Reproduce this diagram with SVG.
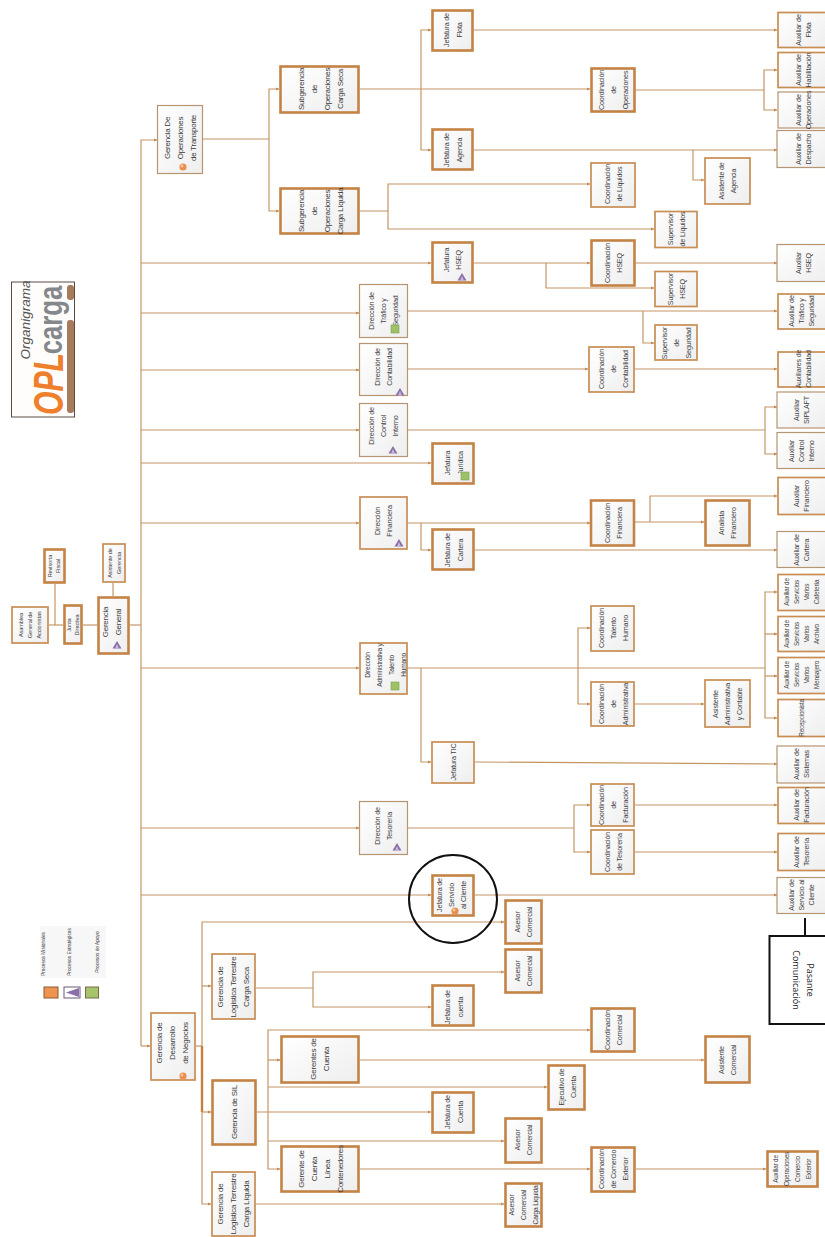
<svg xmlns="http://www.w3.org/2000/svg" width="825" height="1237" viewBox="0 0 825 1237">
<defs>
<linearGradient id="g" x1="0" y1="0" x2="1" y2="1"><stop offset="0" stop-color="#ffffff"/><stop offset="1" stop-color="#eeeeee"/></linearGradient>
<marker id="a" markerUnits="userSpaceOnUse" markerWidth="4" markerHeight="4" refX="3.4" refY="2" orient="auto"><path d="M0 0.4L3.6 2L0 3.6z" fill="#c58a4e"/></marker>
<g id="tri"><path d="M0 -4L4.5 3.5H-4.5z" fill="#8a6fa8"/><path d="M0 -1L2 3.5H-2z" fill="#c9b8d8"/></g>
<g id="blob"><circle r="3.6" fill="#ec8f4e"/><circle cx="-1" cy="-1" r="1.4" fill="#f7c9a4"/></g>
<rect id="sq" x="-4" y="-4" width="8" height="8" fill="#9cc265" stroke="#7e9e52" stroke-width="0.6"/>
</defs>
<style>
text{font-family:"Liberation Sans",Arial,sans-serif;font-size:7.200px;letter-spacing:-0.2px;fill:#3f3f3f;text-anchor:middle}
.L{font-size:8px;letter-spacing:-0.25px;fill:#3a3a3a}
.s{font-size:6.400px}
.x{font-size:5.600px;letter-spacing:-0.1px}
rect.a,rect.b,rect.c{fill:url(#g)}
rect.a{stroke:#b79472;stroke-width:1.2}
rect.b{stroke:#c88d54;stroke-width:1.7}
rect.c{stroke:#c48345;stroke-width:2.6}
#connectors path{fill:none;stroke:#c39665;stroke-width:1.2}
#connectors path.m{marker-end:url(#a)}
#connectors path.k{stroke:#c47f3c;stroke-width:2.4}
</style>

<g id="logo">
<rect x="11.500" y="282" width="63" height="135" fill="#fffdfb" stroke="#5c4a44" stroke-width="1"/>
<text transform="translate(30 320) rotate(-90)" style="font-size:13.500px;letter-spacing:0;font-style:italic;fill:#555">Organigrama</text>
<text transform="translate(63 384) rotate(-90) scale(0.72 1)" style="font-size:42px;letter-spacing:0;font-weight:700;font-style:italic;fill:#ee7f2d">OPL</text>
<text transform="translate(62 320) rotate(-90) scale(0.78 1)" style="font-size:33px;letter-spacing:0;font-weight:700;fill:#85888b">carga</text>
<rect x="67" y="320" width="7" height="93" rx="3" fill="#a87a5c"/>
<rect x="67" y="285" width="7" height="15" rx="3" fill="#a87a5c"/>
</g>

<g id="legend">
<rect x="40" y="926" width="66" height="52" fill="#f7f7f7"/>
<text transform="translate(45 954) rotate(-90)" style="font-size:4.800px;letter-spacing:0;fill:#444">Procesos Misionales</text>
<text transform="translate(71 952) rotate(-90)" style="font-size:4.800px;letter-spacing:0;fill:#444">Procesos Estratégicos</text>
<text transform="translate(99 952) rotate(-90)" style="font-size:4.800px;letter-spacing:0;fill:#444">Procesos de Apoyo</text>
<rect x="44" y="987" width="14" height="11" fill="#ee9350" stroke="#8a5a34"/>
<rect x="64" y="987" width="16" height="11" fill="#fff" stroke="#6b5878"/>
<path d="M66 992.500L79 988V997z" fill="#8a6fa8"/>
<rect x="85.500" y="987" width="13" height="11" fill="#a5c46c" stroke="#7a6a4a"/>
</g>

<g id="connectors">
<path d="M49 625H63"/><path d="M55 584V625"/><path d="M83 625H97"/><path d="M113 583V596"/>
<path d="M130 625H141"/>
<path class="m" d="M141 1046V140H157"/>
<path class="m" d="M141 263H431"/><path class="m" d="M141 313H359"/><path class="m" d="M141 370H359"/><path class="m" d="M141 430H359"/><path class="m" d="M141 463H431"/><path class="m" d="M141 523H359"/><path class="m" d="M141 668H359"/><path class="m" d="M141 828H359"/><path class="m" d="M141 895H431"/><path class="m" d="M141 1046H150"/>
<path d="M203 139H269"/><path class="m" d="M269 139V89H279"/><path class="m" d="M269 139V211H279"/>
<path class="m" d="M360 89H590"/><path class="m" d="M421 89V30H431"/><path class="m" d="M421 89V150H431"/>
<path class="m" d="M474 30H777"/><path class="m" d="M474 150H777"/><path class="m" d="M693 150V180H704"/>
<path class="m" d="M636 90H764V70H777"/><path class="m" d="M764 90V110H777"/>
<path class="m" d="M360 211H388V184H590"/><path class="m" d="M388 211V229H654"/>
<path class="m" d="M474 263H590"/><path class="m" d="M546 263V288H654"/><path class="m" d="M636 263H777"/>
<path class="m" d="M408 311H777"/><path class="m" d="M643 311V343H654"/>
<path class="m" d="M408 369H588"/><path class="m" d="M635 369H777"/>
<path d="M408 430H765"/><path class="m" d="M765 430V407H777"/><path class="m" d="M765 430V454H777"/>
<path class="m" d="M408 523H590"/><path class="m" d="M421 523V550H431"/><path class="m" d="M475 550H777"/>
<path class="m" d="M635 522H704"/><path class="m" d="M650 522V496H777"/>
<path d="M408 668H765"/><path class="m" d="M765 668V592H777"/><path class="m" d="M765 634H777"/><path class="m" d="M765 676H777"/><path class="m" d="M765 668V718H777"/>
<path class="m" d="M578 668V628H590"/><path class="m" d="M578 668V704H590"/><path class="m" d="M635 704H704"/>
<path class="m" d="M421 668V762H431"/><path class="m" d="M475 762L777 764"/>
<path d="M408 828H574"/><path class="m" d="M574 828V805H590"/><path class="m" d="M574 828V852H590"/><path class="m" d="M635 805H777"/><path class="m" d="M635 852H777"/>
<path class="m" d="M475 895H777"/>
<path d="M196 1046H202"/><path class="m" d="M202 1046V922H504"/><path class="m" d="M202 986H211"/><path class="k" d="M202 1046V1112"/><path class="m" d="M202 1112H211"/><path class="m" d="M202 1112V1204H211"/>
<path d="M256 988H313"/><path class="m" d="M313 988V972H504"/><path class="m" d="M313 988V1007H431"/>
<path class="m" d="M257 1112H431"/><path class="m" d="M268 1112V1030H590"/><path class="m" d="M268 1060H280"/><path class="m" d="M268 1087H547"/><path class="m" d="M268 1141H504"/><path class="m" d="M268 1112V1169H280"/>
<path class="m" d="M360 1060H704"/><path class="m" d="M360 1169H590"/><path class="m" d="M636 1169H766"/>
<path class="m" d="M256 1204H504"/>
</g>

<g id="n-asamblea"><rect class="b" x="12" y="607" width="36" height="36"/><text class="x" transform="translate(30 625) rotate(-90)"><tspan x="0" y="-7">Asamblea</tspan><tspan x="0" dy="9">General de</tspan><tspan x="0" dy="9">Accionistas</tspan></text></g>
<g id="n-revisoria"><rect class="c" x="44.500" y="549.500" width="20" height="33"/><text class="x" transform="translate(54.500 566) rotate(-90)"><tspan x="0" y="-2.500">Revisoría</tspan><tspan x="0" dy="8">Fiscal</tspan></text></g>
<g id="n-junta"><rect class="c" x="64.500" y="605.500" width="17" height="38"/><text class="x" transform="translate(73 625) rotate(-90)"><tspan x="0" y="-2.500">Junta</tspan><tspan x="0" dy="8">Directiva</tspan></text></g>
<g id="n-gerencia-general"><rect class="c" x="98.500" y="597.500" width="30" height="56"/><text class="L" transform="translate(112 622) rotate(-90)"><tspan x="0" y="-4">Gerencia</tspan><tspan x="0" dy="13">General</tspan></text><use href="#tri" x="117" y="645"/></g>
<g id="n-asistente-gerencia"><rect class="b" x="103" y="544" width="22" height="38"/><text class="x" transform="translate(114 563) rotate(-90)"><tspan x="0" y="-2.500">Asistente de</tspan><tspan x="0" dy="9">Gerencia</tspan></text></g>

<g id="n-ger-operaciones"><rect class="a" x="157.500" y="105.500" width="45" height="68"/><text class="L" transform="translate(180 138) rotate(-90)"><tspan x="0" y="-10.500">Gerencia De</tspan><tspan x="0" dy="13">Operaciones</tspan><tspan x="0" dy="13">de Transporte</tspan></text><use href="#blob" x="183" y="167"/></g>
<g id="n-sub-seca"><rect class="c" x="280.500" y="66.500" width="78" height="46"/><text class="L" transform="translate(320 89) rotate(-90)"><tspan x="0" y="-16.500">Subgerencia</tspan><tspan x="0" dy="13">de</tspan><tspan x="0" dy="13">Operaciones</tspan><tspan x="0" dy="13">Carga Seca</tspan></text></g>
<g id="n-sub-liquida"><rect class="c" x="280.500" y="188.500" width="78" height="45"/><text class="L" transform="translate(320 211) rotate(-90)"><tspan x="0" y="-16.500">Subgerencia</tspan><tspan x="0" dy="13">de</tspan><tspan x="0" dy="13">Operaciones</tspan><tspan x="0" dy="13">Carga Líquida</tspan></text></g>
<g id="n-jef-flota"><rect class="c" x="432.500" y="10.500" width="40" height="40"/><text transform="translate(452 30) rotate(-90)"><tspan x="0" y="-3.500">Jefatura de</tspan><tspan x="0" dy="13">Flota</tspan></text></g>
<g id="n-jef-agencia"><rect class="c" x="432.500" y="129.500" width="40" height="40"/><text transform="translate(452 150) rotate(-90)"><tspan x="0" y="-3.500">Jefatura de</tspan><tspan x="0" dy="13">Agencia</tspan></text></g>
<g id="n-coord-operaciones"><rect class="c" x="591.500" y="68.500" width="43" height="43"/><text transform="translate(613 90) rotate(-90)"><tspan x="0" y="-9.500">Coordinación</tspan><tspan x="0" dy="12">de</tspan><tspan x="0" dy="12">Operaciones</tspan></text></g>
<g id="n-aux-flota"><rect class="b" x="778" y="12.500" width="50" height="35"/><text transform="translate(803 30) rotate(-90)"><tspan x="0" y="-2.500">Auxiliar de</tspan><tspan x="0" dy="10">Flota</tspan></text></g>
<g id="n-aux-habilitacion"><rect class="b" x="778" y="52.500" width="50" height="35"/><text transform="translate(803 70) rotate(-90)"><tspan x="0" y="-2.500">Auxiliar de</tspan><tspan x="0" dy="10">Habilitación</tspan></text></g>
<g id="n-aux-operaciones"><rect class="a" x="778" y="92" width="50" height="36"/><text transform="translate(803 110) rotate(-90)"><tspan x="0" y="-2.500">Auxiliar de</tspan><tspan x="0" dy="10">Operaciones</tspan></text></g>
<g id="n-aux-despacho"><rect class="a" x="777" y="130.500" width="50" height="37"/><text transform="translate(803 149) rotate(-90)"><tspan x="0" y="-2.500">Auxiliar de</tspan><tspan x="0" dy="10">Despacho</tspan></text></g>
<g id="n-asistente-agencia"><rect class="b" x="705" y="158" width="45" height="46"/><text transform="translate(727 181) rotate(-90)"><tspan x="0" y="-3.500">Asistente de</tspan><tspan x="0" dy="12">Agencia</tspan></text></g>
<g id="n-coord-liquidos"><rect class="b" x="591" y="163" width="44" height="44"/><text transform="translate(613 184) rotate(-90)"><tspan x="0" y="-3.500">Coordinación</tspan><tspan x="0" dy="12">de Líquidos</tspan></text></g>
<g id="n-sup-liquidos"><rect class="b" x="655" y="211.500" width="42" height="36"/><text transform="translate(676 229) rotate(-90)"><tspan x="0" y="-3.500">Supervisor</tspan><tspan x="0" dy="12">de Líquidos</tspan></text></g>
<g id="n-jef-hseq"><rect class="c" x="432.500" y="242.500" width="40" height="40"/><text transform="translate(452 260) rotate(-90)"><tspan x="0" y="-3.500">Jefatura</tspan><tspan x="0" dy="12">HSEQ</tspan></text><use href="#tri" x="462" y="277"/></g>
<g id="n-coord-hseq"><rect class="c" x="591.500" y="240.500" width="43" height="45"/><text transform="translate(613 263) rotate(-90)"><tspan x="0" y="-3.500">Coordinación</tspan><tspan x="0" dy="12">HSEQ</tspan></text></g>
<g id="n-sup-hseq"><rect class="b" x="655" y="271.500" width="42" height="35"/><text transform="translate(676 289) rotate(-90)"><tspan x="0" y="-3.500">Supervisor</tspan><tspan x="0" dy="12">HSEQ</tspan></text></g>
<g id="n-aux-hseq"><rect class="a" x="777" y="244.500" width="50" height="37"/><text transform="translate(803 263) rotate(-90)"><tspan x="0" y="-2.500">Auxiliar</tspan><tspan x="0" dy="10">HSEQ</tspan></text></g>

<g id="n-dir-trafico"><rect class="a" x="359.500" y="284.500" width="48" height="53"/><text transform="translate(383 311) rotate(-90)"><tspan x="0" y="-9.500">Dirección de</tspan><tspan x="0" dy="12">Tráfico y</tspan><tspan x="0" dy="12">Seguridad</tspan></text><use href="#sq" x="395" y="329"/></g>
<g id="n-sup-seguridad"><rect class="b" x="655" y="325" width="42" height="35"/><text transform="translate(676 343) rotate(-90)"><tspan x="0" y="-9.500">Supervisor</tspan><tspan x="0" dy="12">de</tspan><tspan x="0" dy="12">Seguridad</tspan></text></g>
<g id="n-aux-trafico"><rect class="b" x="778" y="294" width="50" height="35"/><text transform="translate(801 311) rotate(-90)"><tspan x="0" y="-7.500">Auxiliar de</tspan><tspan x="0" dy="10">Tráfico y</tspan><tspan x="0" dy="10">Seguridad</tspan></text></g>
<g id="n-dir-contabilidad"><rect class="a" x="359.500" y="343.500" width="48" height="52"/><text transform="translate(383 367) rotate(-90)"><tspan x="0" y="-3.500">Dirección de</tspan><tspan x="0" dy="12">Contabilidad</tspan></text><use href="#tri" x="400" y="392"/></g>
<g id="n-coord-contabilidad"><rect class="b" x="589" y="347" width="45" height="45"/><text transform="translate(613 369) rotate(-90)"><tspan x="0" y="-9.500">Coordinación</tspan><tspan x="0" dy="12">de</tspan><tspan x="0" dy="12">Contabilidad</tspan></text></g>
<g id="n-aux-contabilidad"><rect class="b" x="778" y="352" width="50" height="35"/><text transform="translate(803 369) rotate(-90)"><tspan x="0" y="-2.500">Auxiliares de</tspan><tspan x="0" dy="10">Contabilidad</tspan></text></g>
<g id="n-dir-control"><rect class="a" x="359.500" y="403.500" width="48" height="53"/><text transform="translate(383 426) rotate(-90)"><tspan x="0" y="-9.500">Dirección de</tspan><tspan x="0" dy="12">Control</tspan><tspan x="0" dy="12">Interno</tspan></text><use href="#tri" x="393" y="450"/></g>
<g id="n-aux-siplaft"><rect class="a" x="777" y="392" width="50" height="36"/><text transform="translate(801 410) rotate(-90)"><tspan x="0" y="-2.500">Auxiliar</tspan><tspan x="0" dy="10">SIPLAFT</tspan></text></g>
<g id="n-aux-control"><rect class="a" x="777" y="432.500" width="50" height="36"/><text transform="translate(801 451) rotate(-90)"><tspan x="0" y="-7.500">Auxiliar</tspan><tspan x="0" dy="10">Control</tspan><tspan x="0" dy="10">Interno</tspan></text></g>
<g id="n-jef-juridica"><rect class="c" x="432.500" y="443.500" width="41" height="40"/><text transform="translate(453 463) rotate(-90)"><tspan x="0" y="-3.500">Jefatura</tspan><tspan x="0" dy="13">Jurídica</tspan></text><use href="#sq" x="465" y="476"/></g>

<g id="n-dir-financiera"><rect class="b" x="360" y="497" width="47" height="52"/><text transform="translate(383 521) rotate(-90)"><tspan x="0" y="-3.500">Dirección</tspan><tspan x="0" dy="12">Financiera</tspan></text><use href="#tri" x="399" y="543"/></g>
<g id="n-jef-cartera"><rect class="c" x="432.500" y="529.500" width="41" height="40"/><text transform="translate(453 550) rotate(-90)"><tspan x="0" y="-3.500">Jefatura de</tspan><tspan x="0" dy="13">Cartera</tspan></text></g>
<g id="n-coord-financiera"><rect class="c" x="591" y="500.500" width="43" height="45"/><text transform="translate(613 523) rotate(-90)"><tspan x="0" y="-3.500">Coordinación</tspan><tspan x="0" dy="12">Financiera</tspan></text></g>
<g id="n-analista"><rect class="c" x="705.500" y="500.500" width="44" height="45"/><text transform="translate(727 523) rotate(-90)"><tspan x="0" y="-3.500">Analista</tspan><tspan x="0" dy="12">Financiero</tspan></text></g>
<g id="n-aux-financiero"><rect class="b" x="778" y="477.500" width="50" height="37"/><text transform="translate(801 496) rotate(-90)"><tspan x="0" y="-2.500">Auxiliar</tspan><tspan x="0" dy="10">Financiero</tspan></text></g>
<g id="n-aux-cartera"><rect class="a" x="777" y="531.500" width="50" height="36"/><text transform="translate(801 550) rotate(-90)"><tspan x="0" y="-2.500">Auxiliar de</tspan><tspan x="0" dy="10">Cartera</tspan></text></g>

<g id="n-dir-admin"><rect class="b" x="360" y="643" width="47" height="51"/><text transform="translate(384 665) rotate(-90)" style="font-size:6.600px"><tspan x="0" y="-14.500">Dirección</tspan><tspan x="0" dy="12">Administrativa y</tspan><tspan x="0" dy="12">Talento</tspan><tspan x="0" dy="12">Humano</tspan></text><use href="#sq" x="395" y="686"/></g>
<g id="n-coord-talento"><rect class="b" x="591" y="606" width="43" height="45"/><text transform="translate(613 628) rotate(-90)"><tspan x="0" y="-9.500">Coordinación</tspan><tspan x="0" dy="12">Talento</tspan><tspan x="0" dy="12">Humano</tspan></text></g>
<g id="n-coord-admin"><rect class="b" x="591" y="682" width="43" height="44"/><text transform="translate(613 704) rotate(-90)"><tspan x="0" y="-9.500">Coordinación</tspan><tspan x="0" dy="12">de</tspan><tspan x="0" dy="12">Administrativa</tspan></text></g>
<g id="n-asistente-admin"><rect class="b" x="705" y="680" width="45" height="47"/><text transform="translate(727 704) rotate(-90)"><tspan x="0" y="-9.500">Asistente</tspan><tspan x="0" dy="12">Administrativa</tspan><tspan x="0" dy="12">y Contable</tspan></text></g>
<g id="n-aux-cafeteria"><rect class="b" x="778" y="574.500" width="50" height="36"/><text class="s" transform="translate(802 592) rotate(-90)"><tspan x="0" y="-13">Auxiliar de</tspan><tspan x="0" dy="10">Servicios</tspan><tspan x="0" dy="10">Varios</tspan><tspan x="0" dy="10">Cafetería</tspan></text></g>
<g id="n-aux-archivo"><rect class="b" x="778" y="616.500" width="50" height="35"/><text class="s" transform="translate(802 634) rotate(-90)"><tspan x="0" y="-13">Auxiliar de</tspan><tspan x="0" dy="10">Servicios</tspan><tspan x="0" dy="10">Varios</tspan><tspan x="0" dy="10">Archivo</tspan></text></g>
<g id="n-aux-mensajero"><rect class="b" x="778" y="657.500" width="50" height="36"/><text class="s" transform="translate(802 675) rotate(-90)"><tspan x="0" y="-13">Auxiliar de</tspan><tspan x="0" dy="10">Servicios</tspan><tspan x="0" dy="10">Varios</tspan><tspan x="0" dy="10">Mensajero</tspan></text></g>
<g id="n-recepcionista"><rect class="b" x="778" y="699.500" width="50" height="37"/><text class="s" transform="translate(804 718) rotate(-90)">Recepcionista</text></g>
<g id="n-jef-tic"><rect class="b" x="432" y="742" width="42" height="41"/><text transform="translate(453 762) rotate(-90)" y="2.500">Jefatura TIC</text></g>
<g id="n-aux-sistemas"><rect class="a" x="777" y="746" width="50" height="37"/><text transform="translate(801 764) rotate(-90)"><tspan x="0" y="-2.500">Auxiliar de</tspan><tspan x="0" dy="10">Sistemas</tspan></text></g>

<g id="n-dir-tesoreria"><rect class="a" x="359.500" y="801.500" width="48" height="53"/><text transform="translate(383 826) rotate(-90)"><tspan x="0" y="-3.500">Dirección de</tspan><tspan x="0" dy="12">Tesorería</tspan></text><use href="#tri" x="397" y="847"/></g>
<g id="n-coord-facturacion"><rect class="b" x="591" y="784" width="43" height="42"/><text transform="translate(613 805) rotate(-90)"><tspan x="0" y="-9.500">Coordinación</tspan><tspan x="0" dy="12">de</tspan><tspan x="0" dy="12">Facturación</tspan></text></g>
<g id="n-coord-tesoreria"><rect class="b" x="591" y="830" width="43" height="44"/><text transform="translate(613 852) rotate(-90)"><tspan x="0" y="-3.500">Coordinación</tspan><tspan x="0" dy="12">de Tesorería</tspan></text></g>
<g id="n-aux-facturacion"><rect class="b" x="778" y="787.500" width="50" height="36"/><text transform="translate(801 805) rotate(-90)"><tspan x="0" y="-2.500">Auxiliar de</tspan><tspan x="0" dy="10">Facturación</tspan></text></g>
<g id="n-aux-tesoreria"><rect class="b" x="778" y="833.500" width="50" height="37"/><text transform="translate(801 852) rotate(-90)"><tspan x="0" y="-2.500">Auxiliar de</tspan><tspan x="0" dy="10">Tesorería</tspan></text></g>

<g id="n-jef-servicio"><rect class="c" x="432.500" y="875.500" width="41" height="40"/><text transform="translate(451 895) rotate(-90)"><tspan x="0" y="-9.500">Jefatura de</tspan><tspan x="0" dy="12">Servicio</tspan><tspan x="0" dy="12">al Cliente</tspan></text><use href="#blob" x="455" y="911"/></g>
<g id="n-aux-servicio"><rect class="a" x="777" y="877.500" width="50" height="36"/><text transform="translate(801 895) rotate(-90)"><tspan x="0" y="-7.500">Auxiliar de</tspan><tspan x="0" dy="10">Servicio al</tspan><tspan x="0" dy="10">Cliente</tspan></text></g>
<g id="n-asesor-1"><rect class="c" x="505.500" y="900.500" width="36" height="43"/><text transform="translate(523 922) rotate(-90)"><tspan x="0" y="-3.500">Asesor</tspan><tspan x="0" dy="12">Comercial</tspan></text></g>
<g id="n-asesor-2"><rect class="c" x="505.500" y="949.500" width="36" height="43"/><text transform="translate(523 971) rotate(-90)"><tspan x="0" y="-3.500">Asesor</tspan><tspan x="0" dy="12">Comercial</tspan></text></g>
<g id="n-jef-cuenta-1"><rect class="c" x="432.500" y="985.500" width="41" height="40"/><text transform="translate(453 1007) rotate(-90)"><tspan x="0" y="-3.500">Jefatura de</tspan><tspan x="0" dy="13">cuenta</tspan></text></g>
<g id="n-coord-comercial"><rect class="c" x="591.500" y="1008.500" width="43" height="43"/><text transform="translate(613 1030) rotate(-90)"><tspan x="0" y="-3.500">Coordinación</tspan><tspan x="0" dy="12">Comercial</tspan></text></g>
<g id="n-asistente-comercial"><rect class="c" x="705.500" y="1036.500" width="44" height="46"/><text transform="translate(727 1060) rotate(-90)"><tspan x="0" y="-3.500">Asistente</tspan><tspan x="0" dy="12">Comercial</tspan></text></g>
<g id="n-ejecutivo"><rect class="c" x="548.500" y="1065.500" width="36" height="44"/><text transform="translate(567 1087) rotate(-90)"><tspan x="0" y="-3.500">Ejecutivo de</tspan><tspan x="0" dy="12">Cuenta</tspan></text></g>
<g id="n-jef-cuenta-2"><rect class="c" x="432.500" y="1092.500" width="41" height="40"/><text transform="translate(453 1112) rotate(-90)"><tspan x="0" y="-3.500">Jefatura de</tspan><tspan x="0" dy="13">Cuenta</tspan></text></g>
<g id="n-asesor-3"><rect class="c" x="505.500" y="1118.500" width="36" height="44"/><text transform="translate(523 1140) rotate(-90)"><tspan x="0" y="-3.500">Asesor</tspan><tspan x="0" dy="12">Comercial</tspan></text></g>
<g id="n-coord-exterior"><rect class="c" x="591.500" y="1147.500" width="43" height="44"/><text transform="translate(613 1169) rotate(-90)"><tspan x="0" y="-9.500">Coordinación</tspan><tspan x="0" dy="12">de Comercio</tspan><tspan x="0" dy="12">Exterior</tspan></text></g>
<g id="n-aux-exterior"><rect class="c" x="767.500" y="1151.500" width="50" height="35"/><text class="s" transform="translate(792 1169) rotate(-90)"><tspan x="0" y="-14.500">Auxiliar de</tspan><tspan x="0" dy="11">Operaciones</tspan><tspan x="0" dy="11">Comercio</tspan><tspan x="0" dy="11">Exterior</tspan></text></g>
<g id="n-asesor-liquida"><rect class="c" x="505.500" y="1183.500" width="36" height="43"/><text transform="translate(523 1205) rotate(-90)"><tspan x="0" y="-9.500">Asesor</tspan><tspan x="0" dy="12">Comercial</tspan><tspan x="0" dy="12" style="font-size:6.600px">Carga Líquida</tspan></text></g>

<g id="n-ger-negocios"><rect class="b" x="151" y="1013" width="44" height="67"/><text class="L" transform="translate(172 1043) rotate(-90)"><tspan x="0" y="-10.500">Gerencia de</tspan><tspan x="0" dy="13">Desarrollo</tspan><tspan x="0" dy="13">de Negocios</tspan></text><use href="#blob" x="183" y="1076"/></g>
<g id="n-ger-seca"><rect class="b" x="212" y="954" width="43" height="65"/><text class="L" transform="translate(233 987) rotate(-90)"><tspan x="0" y="-10.500">Gerencia de</tspan><tspan x="0" dy="13">Logística Terrestre</tspan><tspan x="0" dy="13">Carga Seca</tspan></text></g>
<g id="n-ger-sil"><rect class="c" x="212.500" y="1080.500" width="43" height="64"/><text class="L" transform="translate(234 1112) rotate(-90)" y="3">Gerencia de SIL</text></g>
<g id="n-ger-liquida"><rect class="b" x="212" y="1172" width="43" height="64"/><text class="L" transform="translate(233 1204) rotate(-90)"><tspan x="0" y="-10.500">Gerencia de</tspan><tspan x="0" dy="13">Logística Terrestre</tspan><tspan x="0" dy="13">Carga Líquida</tspan></text></g>
<g id="n-gerentes-cuenta"><rect class="c" x="281.500" y="1036.500" width="77" height="46"/><text class="L" transform="translate(320 1059) rotate(-90)"><tspan x="0" y="-4">Gerentes de</tspan><tspan x="0" dy="13">Cuenta</tspan></text></g>
<g id="n-gerente-contenedores"><rect class="c" x="281.500" y="1146.500" width="77" height="45"/><text class="L" transform="translate(320 1169) rotate(-90)"><tspan x="0" y="-16.500">Gerente de</tspan><tspan x="0" dy="13">Cuenta</tspan><tspan x="0" dy="13">Línea</tspan><tspan x="0" dy="13">Contenedores</tspan></text></g>

<g id="n-pasante"><path d="M805 918V936" fill="none" stroke="#111" stroke-width="2"/><rect x="769.500" y="936" width="60" height="88" fill="#fff" stroke="#111" stroke-width="2"/><text transform="translate(800 980) rotate(90)" style="font-size:9px;letter-spacing:0;fill:#222;font-family:'Open Sans','Liberation Sans',sans-serif"><tspan x="0" y="-7">Pasante</tspan><tspan x="0" dy="14">Comunicación</tspan></text></g>
<circle id="highlight" cx="453" cy="899" r="44" fill="none" stroke="#111" stroke-width="2"/>
</svg>
